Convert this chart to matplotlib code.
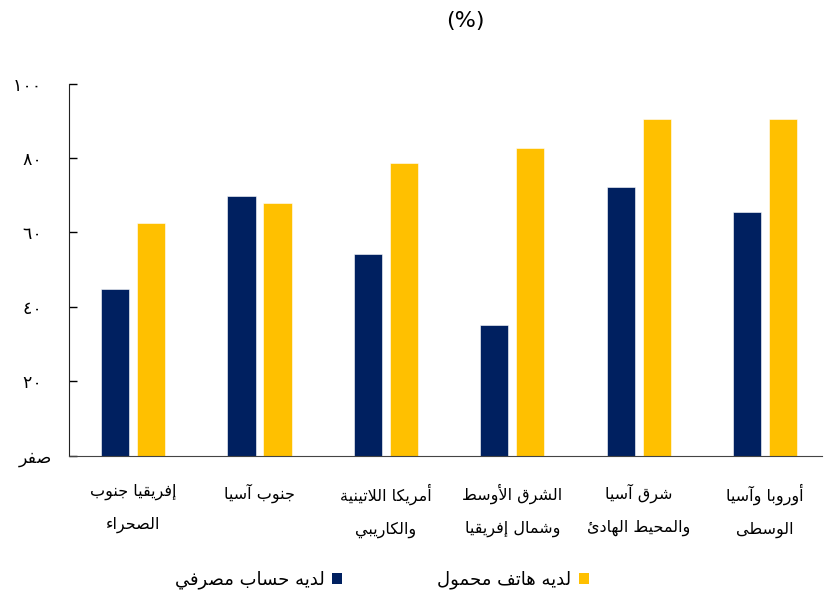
import numpy as np
import matplotlib.pyplot as plt
from matplotlib.patches import Patch

### Data ###
regions = ['إفريقيا جنوب\nالصحراء', 'جنوب آسيا', 'أمريكا اللاتينية\nوالكاريبي',
           'الشرق الأوسط\nوشمال إفريقيا', 'شرق آسيا\nوالمحيط الهادئ', 'أوروبا وآسيا\nالوسطى']
bank_account = [44.9, 69.8, 54.1, 35.0, 72.1, 65.4]
mobile_phone = [62.6, 67.8, 78.6, 82.6, 90.6, 90.6]
bank_label = 'لديه حساب مصرفي'
phone_label = 'لديه هاتف محمول'
yticks = [0, 20, 40, 60, 80, 100]
ytick_labels = ['صفر', '٢٠', '٤٠', '٦٠', '٨٠', '١٠٠']
title = '(%)'

### Arabic shaping (matplotlib has no bidi / joining) ###
AR_FORMS = {  # letter: (first presentation-form code, number of forms)
    'ء': (0xFE80, 1), 'آ': (0xFE81, 2), 'أ': (0xFE83, 2), 'ؤ': (0xFE85, 2),
    'إ': (0xFE87, 2), 'ئ': (0xFE89, 4), 'ا': (0xFE8D, 2), 'ب': (0xFE8F, 4),
    'ة': (0xFE93, 2), 'ت': (0xFE95, 4), 'ث': (0xFE99, 4), 'ج': (0xFE9D, 4),
    'ح': (0xFEA1, 4), 'خ': (0xFEA5, 4), 'د': (0xFEA9, 2), 'ذ': (0xFEAB, 2),
    'ر': (0xFEAD, 2), 'ز': (0xFEAF, 2), 'س': (0xFEB1, 4), 'ش': (0xFEB5, 4),
    'ص': (0xFEB9, 4), 'ض': (0xFEBD, 4), 'ط': (0xFEC1, 4), 'ظ': (0xFEC5, 4),
    'ع': (0xFEC9, 4), 'غ': (0xFECD, 4), 'ف': (0xFED1, 4), 'ق': (0xFED5, 4),
    'ك': (0xFED9, 4), 'ل': (0xFEDD, 4), 'م': (0xFEE1, 4), 'ن': (0xFEE5, 4),
    'ه': (0xFEE9, 4), 'و': (0xFEED, 2), 'ى': (0xFEEF, 2), 'ي': (0xFEF1, 4),
}
LAM_ALEF = {'آ': 0xFEF5, 'أ': 0xFEF7, 'إ': 0xFEF9, 'ا': 0xFEFB}


def joins_next(u):
    return u[0] in AR_FORMS and AR_FORMS[u[0]][1] == 4


def joins_prev(u):
    return u[0] == 'LA' or (u[0] in AR_FORMS and AR_FORMS[u[0]][1] >= 2)


def shape_line(line):
    units = []
    i = 0
    while i < len(line):
        c = line[i]
        if c == 'ل' and i + 1 < len(line) and line[i + 1] in LAM_ALEF:
            units.append(('LA', LAM_ALEF[line[i + 1]]))
            i += 2
        else:
            units.append((c, None))
            i += 1
    out = []
    for k, u in enumerate(units):
        prev = units[k - 1] if k > 0 else None
        nxt = units[k + 1] if k + 1 < len(units) else None
        p = prev is not None and joins_next(prev) and joins_prev(u)
        n = nxt is not None and joins_next(u) and joins_prev(nxt)
        if u[0] == 'LA':
            out.append(chr(u[1] + (1 if p else 0)))
        elif u[0] in AR_FORMS:
            first, nforms = AR_FORMS[u[0]]
            if nforms == 1:
                idx = 0
            elif nforms == 2:
                idx = 1 if p else 0
            else:
                idx = (1 if p else 0) + (2 if n else 0)
            out.append(chr(first + idx))
        else:
            out.append(u[0])
    return ''.join(out[::-1])


def ar(text):
    return '\n'.join(shape_line(l) for l in text.split('\n'))


### Plot ###
plt.rcParams['font.family'] = ['DejaVu Sans']
navy = '#002060'
gold = '#FFC000'

fig = plt.figure(figsize=(8.25, 6.01), dpi=100)
ax = fig.add_axes([0.0836, 0.242, 0.9127, 0.619])

x = np.arange(len(regions))
w = 0.223
off = 0.142
ax.bar(x - off, bank_account, w, color=navy, edgecolor='white', linewidth=0.4)
ax.bar(x + off, mobile_phone, w, color=gold, edgecolor='white', linewidth=0.4)

ax.set_xlim(-0.507, 5.45)
ax.set_ylim(0, 100)

ax.set_xticks(x)
ax.set_xticklabels([ar(r) for r in regions], fontsize=11.5, linespacing=2.4)
ax.tick_params(axis='x', length=0, pad=20)

ax.set_yticks(yticks)
ax.set_yticklabels([ar(t) if t == 'صفر' else t + '  ' for t in ytick_labels], fontsize=12.5)
ax.tick_params(axis='y', direction='in', length=6, width=1, pad=12)

for s in ['top', 'right']:
    ax.spines[s].set_visible(False)
ax.spines['left'].set_color('#222222')
ax.spines['bottom'].set_color('#444444')

fig.text(465 / 825, 1 - 21 / 601, title, fontsize=16, ha='center', va='center')

handles = [Patch(facecolor=navy), Patch(facecolor=gold)]
fig.legend(handles, [ar(bank_label), ar(phone_label)], loc='center',
           bbox_to_anchor=(0.4625, 0.035), ncol=2, frameon=False, fontsize=13,
           markerfirst=False, handlelength=0.55, handleheight=0.55,
           handletextpad=0.4, columnspacing=5.3)

fig.savefig('out.png', dpi=100)
